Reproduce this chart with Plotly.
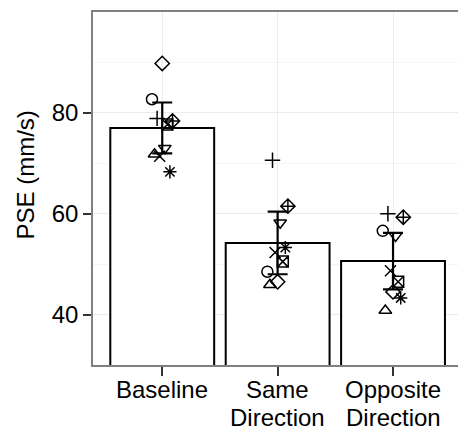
import plotly.graph_objects as go

# Conditions (two-line category labels) and group summaries
cond_line1 = ["Baseline", "Same", "Opposite"]
cond_line2 = ["", "Direction", "Direction"]
mean_pse = [77.0, 54.2, 50.6]      # mean PSE (mm/s)
ci_half = [5.05, 6.2, 5.6]         # 95% CI half-width

# Individual subjects: PSE (mm/s) per condition
subj_symbols = ["circle-open", "triangle-up-open", "cross-thin-open", "x-thin-open",
                "diamond-open", "triangle-down-open", "square-x-open",
                "asterisk-open", "diamond-cross-open"]
subj_baseline = [82.7, 71.8, 78.9, 71.4, 89.8, 73.0, 77.7, 68.3, 78.4]
subj_same = [48.5, 45.9, 70.6, 52.3, 46.5, 58.2, 50.5, 53.3, 61.5]
subj_opposite = [56.6, 40.8, 60.0, 48.7, 44.5, 55.6, 46.5, 43.3, 59.3]

y_title = "PSE (mm/s)"

xpos = [1, 2, 3]
n_subj = len(subj_symbols)
dodge = 0.2

W, H = 458, 431
ML, MR, MT, MB = 93, 0, 12, 66
plot_w, plot_h = W - ML - MR, H - MT - MB


def px_to_paper_y(py):
    return (H - MB - py) / plot_h


def px_to_paper_x(px):
    return (px - ML) / plot_w


fig = go.Figure()

fig.add_trace(go.Bar(
    x=xpos, y=mean_pse, width=0.9,
    marker=dict(color="white", line=dict(color="black", width=2)),
    showlegend=False, hoverinfo="skip",
))

for i, sym in enumerate(subj_symbols):
    off = (i - (n_subj - 1) / 2) * dodge / n_subj
    fig.add_trace(go.Scatter(
        x=[p + off for p in xpos],
        y=[subj_baseline[i], subj_same[i], subj_opposite[i]],
        mode="markers",
        marker=dict(symbol=sym, size=11, color="black",
                    line=dict(color="black", width=1.5)),
        showlegend=False,
    ))

fig.add_trace(go.Scatter(
    x=xpos, y=mean_pse, mode="markers",
    marker=dict(size=1, color="rgba(0,0,0,0)"),
    error_y=dict(type="data", array=ci_half, color="black", thickness=2.2, width=10),
    showlegend=False, hoverinfo="skip",
))

font = "Liberation Sans, Arial, sans-serif"

# category labels, one annotation per text line
annotations = []
for xp, l1, l2 in zip(xpos, cond_line1, cond_line2):
    for txt, py in ((l1, 389), (l2, 417)):
        if txt:
            annotations.append(dict(
                x=xp, xref="x", y=px_to_paper_y(py), yref="paper",
                text=txt, showarrow=False, xanchor="center", yanchor="middle",
                font=dict(family=font, size=24, color="black"),
            ))

annotations.append(dict(
    x=px_to_paper_x(25), xref="paper", y=px_to_paper_y(175.5), yref="paper",
    text=y_title, textangle=-90, showarrow=False,
    xanchor="center", yanchor="middle",
    font=dict(family=font, size=24, color="black"),
))

fig.update_layout(
    width=W, height=H,
    margin=dict(l=ML, r=MR, t=MT, b=MB),
    plot_bgcolor="white", paper_bgcolor="white",
    font=dict(family=font, size=24, color="black"),
    annotations=annotations,
    xaxis=dict(
        range=[0.4, 3.563], tickmode="array", tickvals=xpos, showticklabels=False,
        showline=True, mirror=True, linecolor="#808080", linewidth=1.6,
        ticks="outside", ticklen=9, tickwidth=1.5, tickcolor="#333333",
        showgrid=True, gridcolor="#ececec", gridwidth=1, zeroline=False,
        automargin=False,
    ),
    yaxis=dict(
        range=[30, 100], tickvals=[40, 60, 80],
        showline=True, linecolor="#808080", linewidth=1.6,
        ticks="outside", ticklen=8, tickwidth=1.5, tickcolor="#333333",
        showgrid=True, gridcolor="#ebebeb", gridwidth=1, zeroline=False,
        minor=dict(tickvals=[50, 70, 90], showgrid=True, gridcolor="#f5f5f5", gridwidth=1),
        tickfont=dict(size=24, color="black"), automargin=False,
    ),
)

fig.write_html("out.html")
